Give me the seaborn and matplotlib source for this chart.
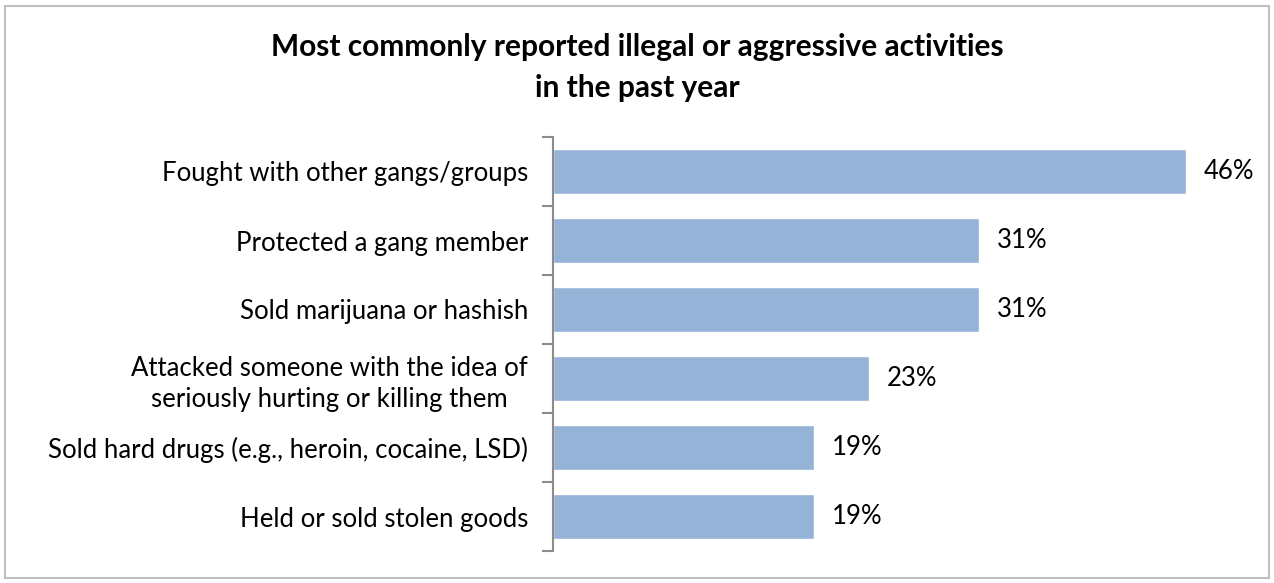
import matplotlib
matplotlib.use("Agg")
import matplotlib.pyplot as plt
import seaborn as sns
import pandas as pd
from matplotlib.patches import Rectangle

activities = [
    "Fought with other gangs/groups",
    "Protected a gang member",
    "Sold marijuana or hashish",
    "Attacked someone with the idea of\nseriously hurting or killing them",
    "Sold hard drugs (e.g., heroin, cocaine, LSD)",
    "Held or sold stolen goods",
]
percent = [46, 31, 31, 23, 19, 19]

sns.set_theme(style="white")
plt.rcParams["font.family"] = ["Lato", "DejaVu Sans"]

df = pd.DataFrame({"activity": activities, "percent": percent})

fig = plt.figure(figsize=(12.74, 5.83), dpi=100)
ax = fig.add_axes([553 / 1274, 1 - 551 / 583, (1268 - 553) / 1274, (551 - 137) / 583])

sns.barplot(data=df, x="percent", y="activity", color="#95B3D7", saturation=1,
            width=0.64, ax=ax, orient="h")

ax.set_xlim(0, 52)
ax.set_ylim(len(activities) - 0.5, -0.5)
ax.set_xlabel("")
ax.set_ylabel("")
ax.set_xticks([])

for s in ["top", "right", "bottom"]:
    ax.spines[s].set_visible(False)
ax.spines["left"].set_color("#8C8C8C")
ax.spines["left"].set_linewidth(1.5)

ax.set_yticks(range(len(activities)))
ax.set_yticklabels(activities, fontsize=18.5, color="black",
                   multialignment="center", linespacing=1.3)
ax.tick_params(axis="y", which="major", length=0, pad=18)
ax.set_yticks([i - 0.5 for i in range(len(activities) + 1)], minor=True)
ax.tick_params(axis="y", which="minor", length=8, width=1.5, color="#8C8C8C", left=True)

for i, v in enumerate(percent):
    ax.text(v + 1.3, i, f"{v}%", va="center", ha="left", fontsize=18.5, color="black")

fig.text(0.5, 1 - 47 / 583, "Most commonly reported illegal or aggressive activities",
         ha="center", va="center", fontsize=21.5, fontweight="bold", color="black")
fig.text(0.5, 1 - 88 / 583, "in the past year",
         ha="center", va="center", fontsize=21.5, fontweight="bold", color="black")

fig.patches.append(Rectangle((5 / 1274, 5 / 583), (1269 - 5) / 1274, (577 - 5) / 583,
                             transform=fig.transFigure, fill=False,
                             edgecolor="#BFBFBF", linewidth=1.5))

fig.savefig("out.png", dpi=100)
